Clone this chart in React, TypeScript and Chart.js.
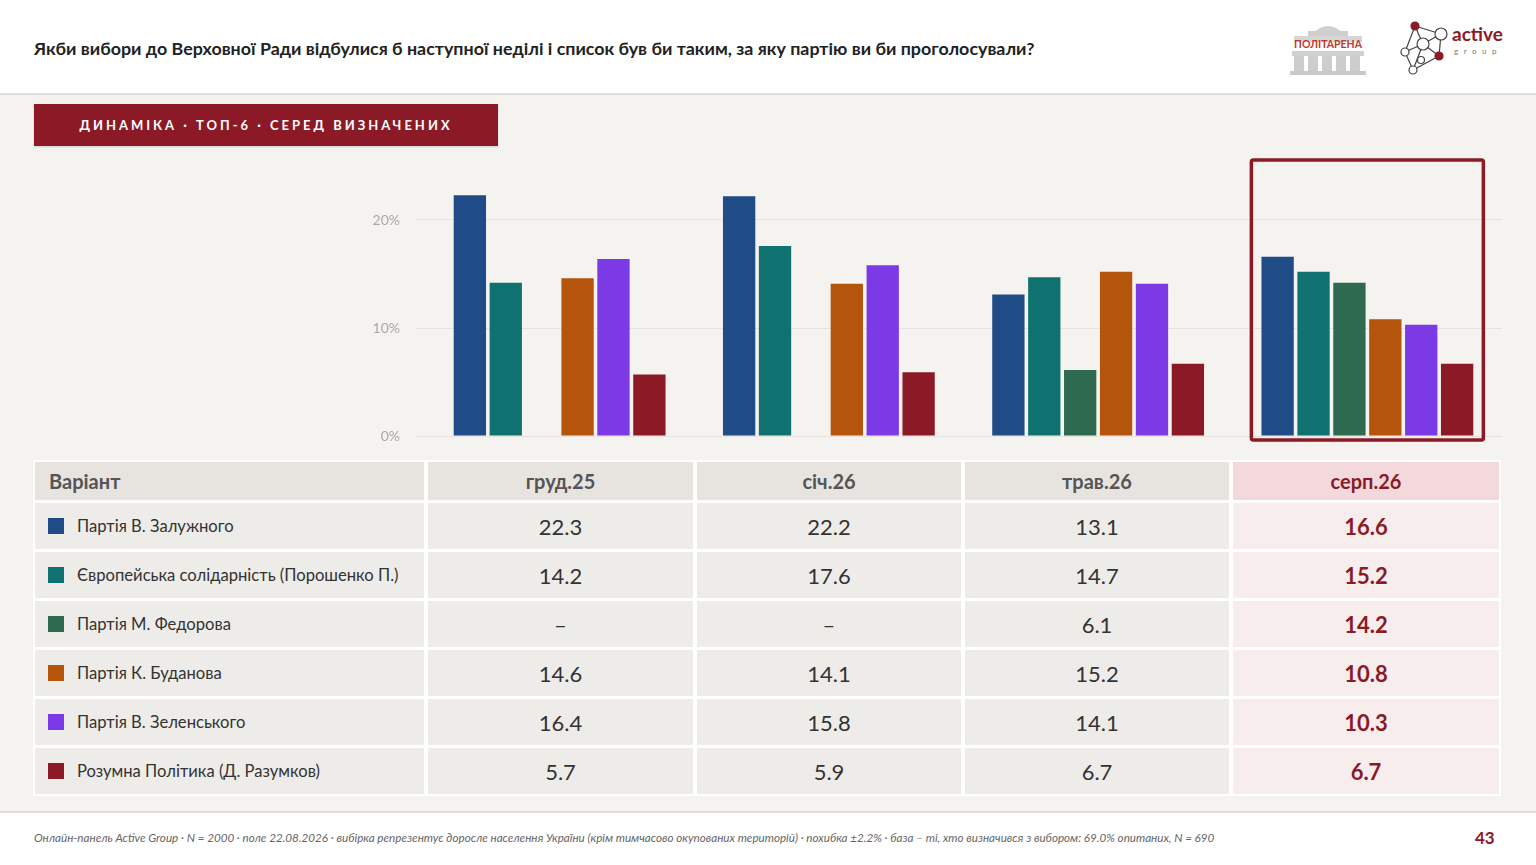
import React, { useEffect, useRef } from "react";
import { Chart, registerables } from "chart.js";

Chart.register(...registerables);

const categories = ["груд.25", "січ.26", "трав.26", "серп.26"];
const parties = [
  "Партія В. Залужного",
  "Європейська солідарність (Порошенко П.)",
  "Партія М. Федорова",
  "Партія К. Буданова",
  "Партія В. Зеленського",
  "Розумна Політика (Д. Разумков)",
];
const colors = ["#1f4c87", "#0f7270", "#2e6a4f", "#b5540b", "#7b3ae6", "#8b1a26"];
const zaluzhny = [22.3, 22.2, 13.1, 16.6];
const eurosol = [14.2, 17.6, 14.7, 15.2];
const fedorov: (number | null)[] = [null, null, 6.1, 14.2];
const budanov = [14.6, 14.1, 15.2, 10.8];
const zelensky = [16.4, 15.8, 14.1, 10.3];
const razumkov = [5.7, 5.9, 6.7, 6.7];
const seriesValues = [zaluzhny, eurosol, fedorov, budanov, zelensky, razumkov];
const yTicks = [0, 10, 20];

const RED = "#8b1a26";
const FONT = "Lato, 'Open Sans', sans-serif";

const highlightPlugin = {
  id: "highlightBox",
  afterDatasetsDraw(chart: any) {
    const { ctx, scales } = chart;
    const x = scales.x.getPixelForValue(categories.length - 1);
    const half = 116;
    const top = chart.chartArea.top - 6;
    const bottom = scales.y.getPixelForValue(0) + 4;
    ctx.save();
    ctx.strokeStyle = RED;
    ctx.lineWidth = 3.5;
    ctx.lineJoin = "round";
    ctx.beginPath();
    ctx.roundRect(x - half, top, half * 2, bottom - top, 2);
    ctx.stroke();
    ctx.restore();
  },
};

function fmt(v: number | null) {
  return v === null ? "–" : v.toFixed(1);
}

function BarChart() {
  const ref = useRef<HTMLCanvasElement | null>(null);
  useEffect(() => {
    if (!ref.current) return;
    const chart = new Chart(ref.current, {
      type: "bar",
      data: {
        labels: categories,
        datasets: seriesValues.map((vals, i) => ({
          label: parties[i],
          data: vals,
          backgroundColor: colors[i],
          borderWidth: 0,
          barPercentage: 0.9,
          categoryPercentage: 0.8,
        })),
      },
      options: {
        animation: false,
        responsive: false,
        maintainAspectRatio: false,
        layout: { padding: { left: 0, right: 34, top: 16, bottom: 14 } },
        plugins: { legend: { display: false }, tooltip: { enabled: false } },
        scales: {
          x: { display: false },
          y: {
            min: 0,
            max: 25,
            afterFit: (s: any) => {
              s.width = 85;
              s.paddingTop = 0;
              s.paddingBottom = 0;
            },
            afterBuildTicks: (s: any) => {
              s.ticks = yTicks.map((v) => ({ value: v }));
            },
            border: { display: false },
            grid: { color: "#e6e3de", lineWidth: 1, tickLength: 8 },
            ticks: {
              padding: 17,
              color: "#aaa7a3",
              font: { family: FONT, size: 14 },
              callback: (v: any) => v + "%",
            },
          },
        },
      },
      plugins: [highlightPlugin],
    });
    return () => chart.destroy();
  }, []);
  return (
    <canvas
      ref={ref}
      width={1196}
      height={300}
      style={{ position: "absolute", left: 340, top: 150, width: 1196, height: 300 }}
    />
  );
}

function Table() {
  const cols = "389px 265px 264px 264px 266px";
  const cell: React.CSSProperties = {
    display: "flex",
    alignItems: "center",
    justifyContent: "center",
  };
  const items: React.ReactNode[] = [];
  items.push(
    <div key="h0" style={{ ...cell, justifyContent: "flex-start", paddingLeft: 14, background: "#e7e4df", color: "#555", fontWeight: 700, fontSize: 20 }}>
      Варіант
    </div>
  );
  categories.forEach((c, j) => {
    const last = j === categories.length - 1;
    items.push(
      <div key={"h" + (j + 1)} style={{ ...cell, background: last ? "#f3d8dc" : "#e7e4df", color: last ? RED : "#555", fontWeight: 700, fontSize: 20 }}>
        {c}
      </div>
    );
  });
  parties.forEach((p, i) => {
    items.push(
      <div key={"r" + i} style={{ ...cell, justifyContent: "flex-start", paddingLeft: 13, background: "#eeece8", color: "#333", fontSize: 16.6 }}>
        <span style={{ display: "inline-block", width: 16, height: 16, background: colors[i], marginRight: 13 }} />
        {p}
      </div>
    );
    seriesValues[i].forEach((v, j) => {
      const last = j === categories.length - 1;
      items.push(
        <div key={"r" + i + "c" + j} style={{ ...cell, background: last ? "#f8eded" : "#eeece8", color: last ? RED : "#333", fontWeight: last ? 700 : 400, fontSize: 22 }}>
          {fmt(v)}
        </div>
      );
    });
  });
  return (
    <div
      style={{
        position: "absolute",
        left: 33,
        top: 460,
        display: "grid",
        gridTemplateColumns: cols,
        gridTemplateRows: "38px repeat(6, 46px)",
        columnGap: 4,
        rowGap: 3,
        padding: 2,
        background: "#ffffff",
      }}
    >
      {items}
    </div>
  );
}

function PolitArenaLogo() {
  return (
    <svg width="80" height="56" viewBox="0 0 80 56" style={{ position: "absolute", left: 1288, top: 20 }}>
      <path d="M26 12 Q40 0 54 12 Z" fill="#cfcfcf" />
      <rect x="20" y="11" width="40" height="5" fill="#cfcfcf" />
      <rect x="6" y="16" width="68" height="6" fill="#d6d6d6" />
      <rect x="4" y="31" width="72" height="5" fill="#d0d0d0" />
      {[6, 20, 34, 48, 62].map((x) => (
        <rect key={x} x={x} y={36} width={10} height={16} fill="#cdcdcd" />
      ))}
      <rect x="2" y="51" width="76" height="4" fill="#c8c8c8" />
      <text x="40" y="28" textAnchor="middle" fontFamily={FONT} fontWeight={700} fontSize="10.5" fill="#c0392b">
        ПОЛІТАРЕНА
      </text>
    </svg>
  );
}

function ActiveLogo() {
  const nodes: [number, number, number, string][] = [
    [14, 6, 4, "red"],
    [40, 14, 6, "w"],
    [20, 40, 3.5, "w"],
    [4, 32, 4, "w"],
    [22, 24, 6, "w"],
    [38, 36, 4, "red"],
    [12, 50, 4, "w"],
  ];
  const edges = [
    [0, 1], [0, 3], [1, 4], [1, 5], [3, 4], [4, 5], [3, 6], [6, 5], [4, 6], [0, 4],
  ];
  return (
    <div style={{ position: "absolute", left: 1396, top: 18, width: 120, height: 58 }}>
      <svg width="56" height="58" viewBox="-2 -2 50 58" style={{ position: "absolute", left: 0, top: 0 }}>
        {edges.map(([a, b], k) => (
          <line key={k} x1={nodes[a][0]} y1={nodes[a][1]} x2={nodes[b][0]} y2={nodes[b][1]} stroke="#444" strokeWidth="1.2" />
        ))}
        {nodes.map(([x, y, r, t], k) => (
          <circle key={k} cx={x} cy={y} r={r} fill={t === "red" ? RED : "#fff"} stroke={t === "red" ? RED : "#444"} strokeWidth="1.2" />
        ))}
      </svg>
      <div style={{ position: "absolute", left: 56, top: 6, fontFamily: FONT, fontWeight: 700, fontSize: 19, color: RED, lineHeight: "20px" }}>
        active
      </div>
      <div style={{ position: "absolute", left: 58, top: 28, fontFamily: FONT, fontSize: 8, color: "#777", letterSpacing: 5.5, lineHeight: "10px" }}>
        group
      </div>
    </div>
  );
}

export default function App() {
  return (
    <div
      style={{
        position: "fixed",
        left: 0,
        top: 0,
        width: 1536,
        height: 865,
        background: "#ffffff",
        fontFamily: FONT,
        overflow: "hidden",
      }}
    >
      <div
        style={{
          position: "absolute",
          left: 34,
          top: 36,
          fontSize: 17.85,
          fontWeight: 700,
          color: "#222",
          lineHeight: "24px",
          whiteSpace: "nowrap",
        }}
      >
        Якби вибори до Верховної Ради відбулися б наступної неділі і список був би таким, за яку партію ви би проголосували?
      </div>
      <PolitArenaLogo />
      <ActiveLogo />
      <div style={{ position: "absolute", left: 0, top: 93, width: 1536, height: 2, background: "#e2dfdb" }} />
      <div style={{ position: "absolute", left: 0, top: 95, width: 1536, height: 717, background: "#f5f3ef" }} />
      <div style={{ position: "absolute", left: 0, top: 811, width: 1536, height: 2, background: "#e2dfdb" }} />
      <div
        style={{
          position: "absolute",
          left: 34,
          top: 104,
          width: 464,
          height: 42,
          background: RED,
          color: "#fff",
          fontWeight: 700,
          fontSize: 13,
          letterSpacing: 3.0,
          display: "flex",
          alignItems: "center",
          justifyContent: "center",
          boxShadow: "0 1px 2px rgba(0,0,0,0.15)",
        }}
      >
        ДИНАМІКА · ТОП-6 · СЕРЕД ВИЗНАЧЕНИХ
      </div>
      <BarChart />
      <Table />
      <div
        style={{
          position: "absolute",
          left: 34,
          top: 830,
          fontSize: 11.65,
          fontStyle: "italic",
          color: "#666",
          whiteSpace: "nowrap",
          lineHeight: "16px",
        }}
      >
        Онлайн-панель Active Group · N = 2000 · поле 22.08.2026 · вибірка репрезентує доросле населення України (крім тимчасово окупованих територій) · похибка ±2.2% · база – ті, хто визначився з вибором: 69.0% опитаних, N = 690
      </div>
      <div
        style={{
          position: "absolute",
          left: 1475,
          top: 828,
          fontSize: 17,
          fontWeight: 700,
          color: RED,
          lineHeight: "20px",
        }}
      >
        43
      </div>
    </div>
  );
}
